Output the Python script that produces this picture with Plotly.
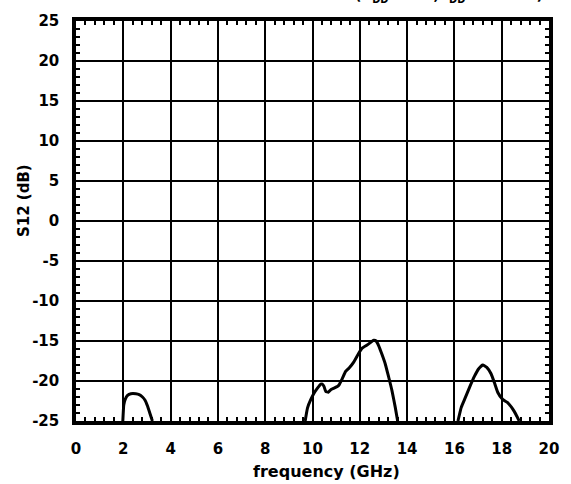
import plotly.graph_objects as go

# Data (frequency in GHz, S12 in dB)
band1_f = [1.98, 2.02, 2.08, 2.18, 2.32, 2.53, 2.67, 2.81, 2.92, 3.02, 3.12, 3.23]
band1_s = [-25.0, -23.0, -22.3, -21.8, -21.6, -21.6, -21.7, -22.0, -22.4, -23.1, -24.0, -25.0]

band2_f = [9.69, 9.79, 9.93, 10.07, 10.21, 10.35, 10.42, 10.49, 10.56, 10.67, 10.77, 10.91,
           11.05, 11.12, 11.26, 11.40, 11.54, 11.75, 11.96, 12.10, 12.31, 12.45, 12.59,
           12.69, 12.80, 12.94, 13.08, 13.22, 13.36, 13.50, 13.60]
band2_s = [-25.0, -23.35, -22.3, -21.5, -20.9, -20.4, -20.4, -20.7, -21.3, -21.4, -21.1, -20.9,
           -20.7, -20.5, -19.7, -18.8, -18.4, -17.6, -16.5, -15.9, -15.5, -15.2, -14.9,
           -15.0, -15.6, -16.7, -17.9, -19.5, -21.2, -23.3, -25.0]

band3_f = [16.15, 16.29, 16.43, 16.64, 16.85, 17.02, 17.20, 17.37, 17.55, 17.69, 17.83,
           18.04, 18.25, 18.42, 18.53, 18.64, 18.74]
band3_s = [-25.0, -23.3, -22.3, -20.8, -19.4, -18.5, -18.0, -18.3, -19.1, -20.2, -21.4,
           -22.3, -22.7, -23.3, -23.8, -24.4, -25.0]

x_ticks = [0, 2, 4, 6, 8, 10, 12, 14, 16, 18, 20]
y_ticks = [-25, -20, -15, -10, -5, 0, 5, 10, 15, 20, 25]

title_text = "(V<sub>DD</sub> = 3 V, I<sub>DD</sub> = 10 mA)"
x_title = "frequency (GHz)"
y_title = "S12 (dB)"

FONT = "DejaVu Sans, Arial, sans-serif"

fig = go.Figure()
for f, s in [(band1_f, band1_s), (band2_f, band2_s), (band3_f, band3_s)]:
    fig.add_trace(go.Scatter(x=f, y=s, mode="lines",
                             line=dict(color="black", width=3, shape="spline", smoothing=0.4),
                             showlegend=False, hoverinfo="skip", cliponaxis=True))

axis_common = dict(
    showline=True, linecolor="black", linewidth=3.5, mirror="allticks",
    showgrid=True, gridcolor="black", gridwidth=2,
    zeroline=False,
    ticks="inside", ticklen=4, tickwidth=2, tickcolor="black",
    tickfont=dict(family=FONT, size=15, color="black", weight="bold"),
)

fig.update_xaxes(range=[0, 20], tickvals=x_ticks, ticktext=[str(v) for v in x_ticks],
                 minor=dict(dtick=0.4, tick0=0, ticks="inside", ticklen=4, tickwidth=2,
                            tickcolor="black", showgrid=False),
                 ticklabelstandoff=11, **axis_common)
fig.update_yaxes(range=[-25, 25], tickvals=y_ticks, ticktext=[str(v) for v in y_ticks],
                 minor=dict(dtick=1, tick0=0, ticks="inside", ticklen=4, tickwidth=2,
                            tickcolor="black", showgrid=False),
                 ticklabelstandoff=10, **axis_common)

fig.update_layout(
    width=571, height=484,
    margin=dict(l=76, r=19, t=16, b=63),
    paper_bgcolor="white", plot_bgcolor="white",
    annotations=[
        dict(text=x_title, xref="paper", yref="paper", x=(328 - 76) / 476, y=-(472 - 421) / 405,
             xanchor="center", yanchor="middle", showarrow=False,
             font=dict(family=FONT, size=16, color="black", weight="bold")),
        dict(text=y_title, xref="paper", yref="paper", x=-(76 - 23) / 476, y=(421 - 198) / 405,
             xanchor="center", yanchor="middle", showarrow=False, textangle=-90,
             font=dict(family=FONT, size=15, color="black", weight="bold")),
        dict(text=title_text, xref="paper", yref="paper", x=(548 - 76) / 476, y=1 + (16 - 2) / 405,
             xanchor="right", yanchor="bottom", showarrow=False,
             font=dict(family=FONT, size=14, color="black", weight="bold")),
    ],
)

fig.write_html("out.html",
               config={"displayModeBar": False},
               post_script="document.body.style.margin='0';document.body.style.overflow='hidden';")
